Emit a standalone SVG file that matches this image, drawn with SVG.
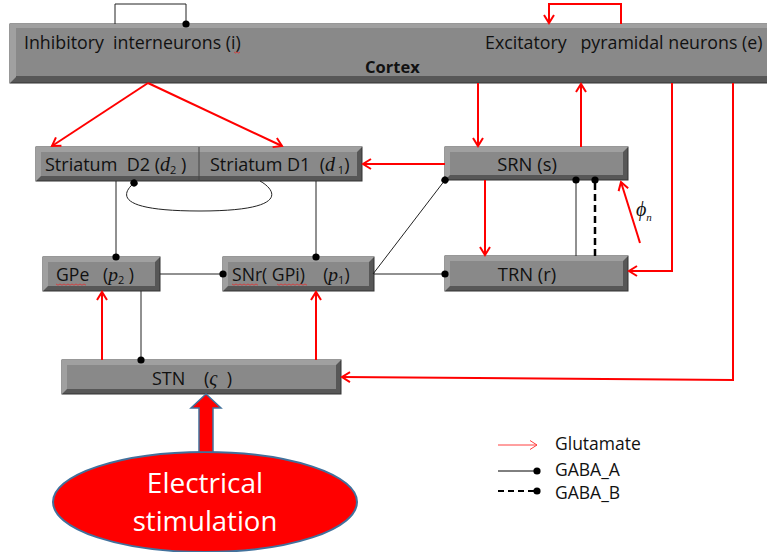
<svg xmlns="http://www.w3.org/2000/svg" width="767" height="552" viewBox="0 0 767 552">
<style>
.dk{fill:#575757;stroke:#333;stroke-width:1}
.lt{fill:#a0a0a0}
.fc{fill:#898989}
.t{font-family:"Open Sans","Liberation Sans",sans-serif;fill:#111}
.m{font-family:"Liberation Serif",serif;font-style:italic}
.g{fill:none;stroke:#ff0000;stroke-width:2}
.b{fill:none;stroke:#222;stroke-width:1}
.sq{fill:none;stroke:#e03030;stroke-width:0.8}
</style>
<defs>
<marker id="ar" markerWidth="14" markerHeight="14" refX="11" refY="7" orient="auto" markerUnits="userSpaceOnUse">
<path d="M3,2 L11,7 L3,12" fill="none" stroke="#ff0000" stroke-width="2"/>
</marker>
<marker id="ars" markerWidth="14" markerHeight="14" refX="11" refY="7" orient="auto" markerUnits="userSpaceOnUse">
<path d="M4,2.5 L11,7 L4,11.5" fill="none" stroke="#ff4040" stroke-width="1"/>
</marker>
<marker id="dot" markerWidth="10" markerHeight="10" refX="5" refY="5" orient="auto" markerUnits="userSpaceOnUse">
<circle cx="5" cy="5" r="3.6" fill="#000"/>
</marker>
</defs>

<g id="cortex">
<rect class="dk" x="10" y="24" width="762" height="59"/>
<polygon class="lt" points="10,24 772,24 772,28 16,28 16,77 10,83"/>
<rect class="fc" x="16" y="28" width="756" height="48"/>
<text class="t" x="24" y="49" font-size="17.8" xml:space="preserve">Inhibitory  interneurons (i)</text>
<text class="t" x="485" y="49" font-size="17.8" xml:space="preserve">Excitatory   pyramidal neurons (e)</text>
<text class="t" x="365" y="73" font-size="16.5" font-weight="bold">Cortex</text>
<path class="sq" d="M234,52 l1.5,1 1.5,-1 1.5,1 1.5,-1"/>
</g>

<g id="striatum">
<rect class="dk" x="36" y="147" width="326" height="34"/>
<polygon class="lt" points="36,147 362,147 357,152 41,152 41,176 36,181"/>
<rect class="fc" x="41" y="152" width="316" height="24"/>
<line x1="199" y1="147" x2="199" y2="181" stroke="#444" stroke-width="1"/>
<text class="t" x="45" y="171" font-size="18" xml:space="preserve">Striatum  D2 (<tspan class="m" font-size="20">d</tspan><tspan font-size="11" dy="3">2</tspan><tspan dy="-3"> )</tspan></text>
<text class="t" x="210" y="171" font-size="18" xml:space="preserve">Striatum D1  (<tspan class="m" font-size="20">d</tspan><tspan font-size="11" dy="3"> 1</tspan><tspan dy="-3">)</tspan></text>
</g>

<g id="srn">
<rect class="dk" x="445" y="147" width="183" height="33"/>
<polygon class="lt" points="445,147 628,147 623,152 450,152 450,175 445,180"/>
<rect class="fc" x="450" y="152" width="173" height="23"/>
<text class="t" x="527" y="171" font-size="18.4" text-anchor="middle">SRN (s)</text>
</g>

<g id="trn">
<rect class="dk" x="445" y="256" width="183" height="35"/>
<polygon class="lt" points="445,256 628,256 623,261 450,261 450,286 445,291"/>
<rect class="fc" x="450" y="261" width="173" height="25"/>
<text class="t" x="527" y="281" font-size="18.4" text-anchor="middle">TRN (r)</text>
</g>

<g id="gpe">
<rect class="dk" x="43" y="257" width="117" height="34"/>
<polygon class="lt" points="43,257 160,257 155,262 48,262 48,286 43,291"/>
<rect class="fc" x="48" y="262" width="107" height="24"/>
<text class="t" x="56" y="281" font-size="17.6" xml:space="preserve">GPe   (<tspan class="m" font-size="19.5">p</tspan><tspan font-size="11" dy="3">2</tspan><tspan dy="-3"> )</tspan></text>
<path class="sq" d="M56,284 l2,1.2 2,-1.2 2,1.2 2,-1.2 2,1.2 2,-1.2 2,1.2 2,-1.2 2,1.2 2,-1.2 2,1.2 2,-1.2 2,1.2 2,-1.2 2,1.2"/>
</g>

<g id="snr">
<rect class="dk" x="223" y="257" width="151" height="34"/>
<polygon class="lt" points="223,257 374,257 369,262 228,262 228,286 223,291"/>
<rect class="fc" x="228" y="262" width="141" height="24"/>
<text class="t" x="232" y="281" font-size="17.6" xml:space="preserve">SNr( GPi)    (<tspan class="m" font-size="19.5">p</tspan><tspan font-size="11" dy="3">1</tspan><tspan dy="-3">)</tspan></text>
<path class="sq" d="M232,284 l2,1.2 2,-1.2 2,1.2 2,-1.2 2,1.2 2,-1.2 2,1.2 2,-1.2 2,1.2 2,-1.2 2,1.2 2,-1.2 2,1.2"/>
<path class="sq" d="M277,284 l2,1.2 2,-1.2 2,1.2 2,-1.2 2,1.2 2,-1.2 2,1.2 2,-1.2 2,1.2 2,-1.2 2,1.2 2,-1.2 2,1.2 2,-1.2 2,1.2"/>
</g>

<g id="stn">
<rect class="dk" x="62" y="360" width="279" height="34"/>
<polygon class="lt" points="62,360 341,360 336,365 67,365 67,389 62,394"/>
<rect class="fc" x="67" y="365" width="269" height="24"/>
<text class="t" x="152" y="385" font-size="18" xml:space="preserve">STN    (<tspan class="m" font-size="20">ς</tspan>  )</text>
</g>

<g id="stimulation">
<ellipse cx="205" cy="502" rx="152" ry="50" fill="#ff0000" stroke="#41719c" stroke-width="2"/>
<polygon points="199,452 199,408 191,408 206,394 221,408 213,408 213,452" fill="#ff0000" stroke="#41719c" stroke-width="1.5"/>
<text class="t" x="205" y="493" font-size="28" style="fill:#fff" text-anchor="middle">Electrical</text>
<text class="t" x="205" y="531" font-size="27.5" style="fill:#fff" text-anchor="middle">stimulation</text>
</g>

<g id="connectors">
<!-- glutamate -->
<polyline class="g" points="621,24 621,4 549,4 549,23" marker-end="url(#ar)"/>
<line class="g" x1="148" y1="83" x2="52" y2="146" marker-end="url(#ar)"/>
<line class="g" x1="148" y1="83" x2="282" y2="146" marker-end="url(#ar)"/>
<line class="g" x1="478" y1="83" x2="478" y2="146" marker-end="url(#ar)"/>
<line class="g" x1="581" y1="147" x2="581" y2="84" marker-end="url(#ar)"/>
<line class="g" x1="445" y1="164" x2="363" y2="164" marker-end="url(#ar)"/>
<line class="g" x1="485" y1="180" x2="485" y2="255" marker-end="url(#ar)"/>
<polyline class="g" points="672,83 672,271 629,271" marker-end="url(#ar)"/>
<polyline class="g" points="733,83 733,380 342,377" marker-end="url(#ar)"/>
<line class="g" x1="640" y1="243" x2="621" y2="182" marker-end="url(#ar)"/>
<line class="g" x1="102" y1="360" x2="102" y2="292" marker-end="url(#ar)"/>
<line class="g" x1="316" y1="360" x2="316" y2="292" marker-end="url(#ar)"/>
<!-- GABA_A -->
<polyline class="b" points="115,24 115,4 186,4 186,24" marker-end="url(#dot)"/>
<line class="b" x1="116" y1="181" x2="116" y2="257" marker-end="url(#dot)"/>
<line class="b" x1="316" y1="181" x2="316" y2="257" marker-end="url(#dot)"/>
<line class="b" x1="160" y1="274" x2="223" y2="274" marker-end="url(#dot)"/>
<line class="b" x1="374" y1="274" x2="445" y2="274" marker-end="url(#dot)"/>
<line class="b" x1="373" y1="274" x2="445" y2="180" marker-end="url(#dot)"/>
<line class="b" x1="141" y1="291" x2="141" y2="360" marker-end="url(#dot)"/>
<line class="b" x1="576" y1="256" x2="576" y2="180" marker-end="url(#dot)"/>
<path class="b" d="M260,181 C276,190 290,211 200,211 C118,211 120,195 134,183" marker-end="url(#dot)"/>
<!-- GABA_B -->
<line x1="595" y1="256" x2="595" y2="180" stroke="#000" stroke-width="2.5" stroke-dasharray="7,4" marker-end="url(#dot)"/>
</g>
<text x="636" y="216" font-family="Liberation Serif,serif" font-style="italic" font-size="20" fill="#111">ϕ<tspan font-size="11" dy="5">n</tspan></text>

<g id="legend">
<line x1="498" y1="445" x2="537" y2="445" stroke="#ff4040" stroke-width="1" marker-end="url(#ars)"/>
<text class="t" x="555" y="450" font-size="17.5">Glutamate</text>
<line x1="498" y1="471" x2="537" y2="471" stroke="#000" stroke-width="1" marker-end="url(#dot)"/>
<text class="t" x="555" y="476" font-size="17.5">GABA_A</text>
<line x1="498" y1="491" x2="537" y2="491" stroke="#000" stroke-width="2" stroke-dasharray="6,4" marker-end="url(#dot)"/>
<text class="t" x="555" y="499" font-size="17.5">GABA_B</text>
</g>
</svg>
